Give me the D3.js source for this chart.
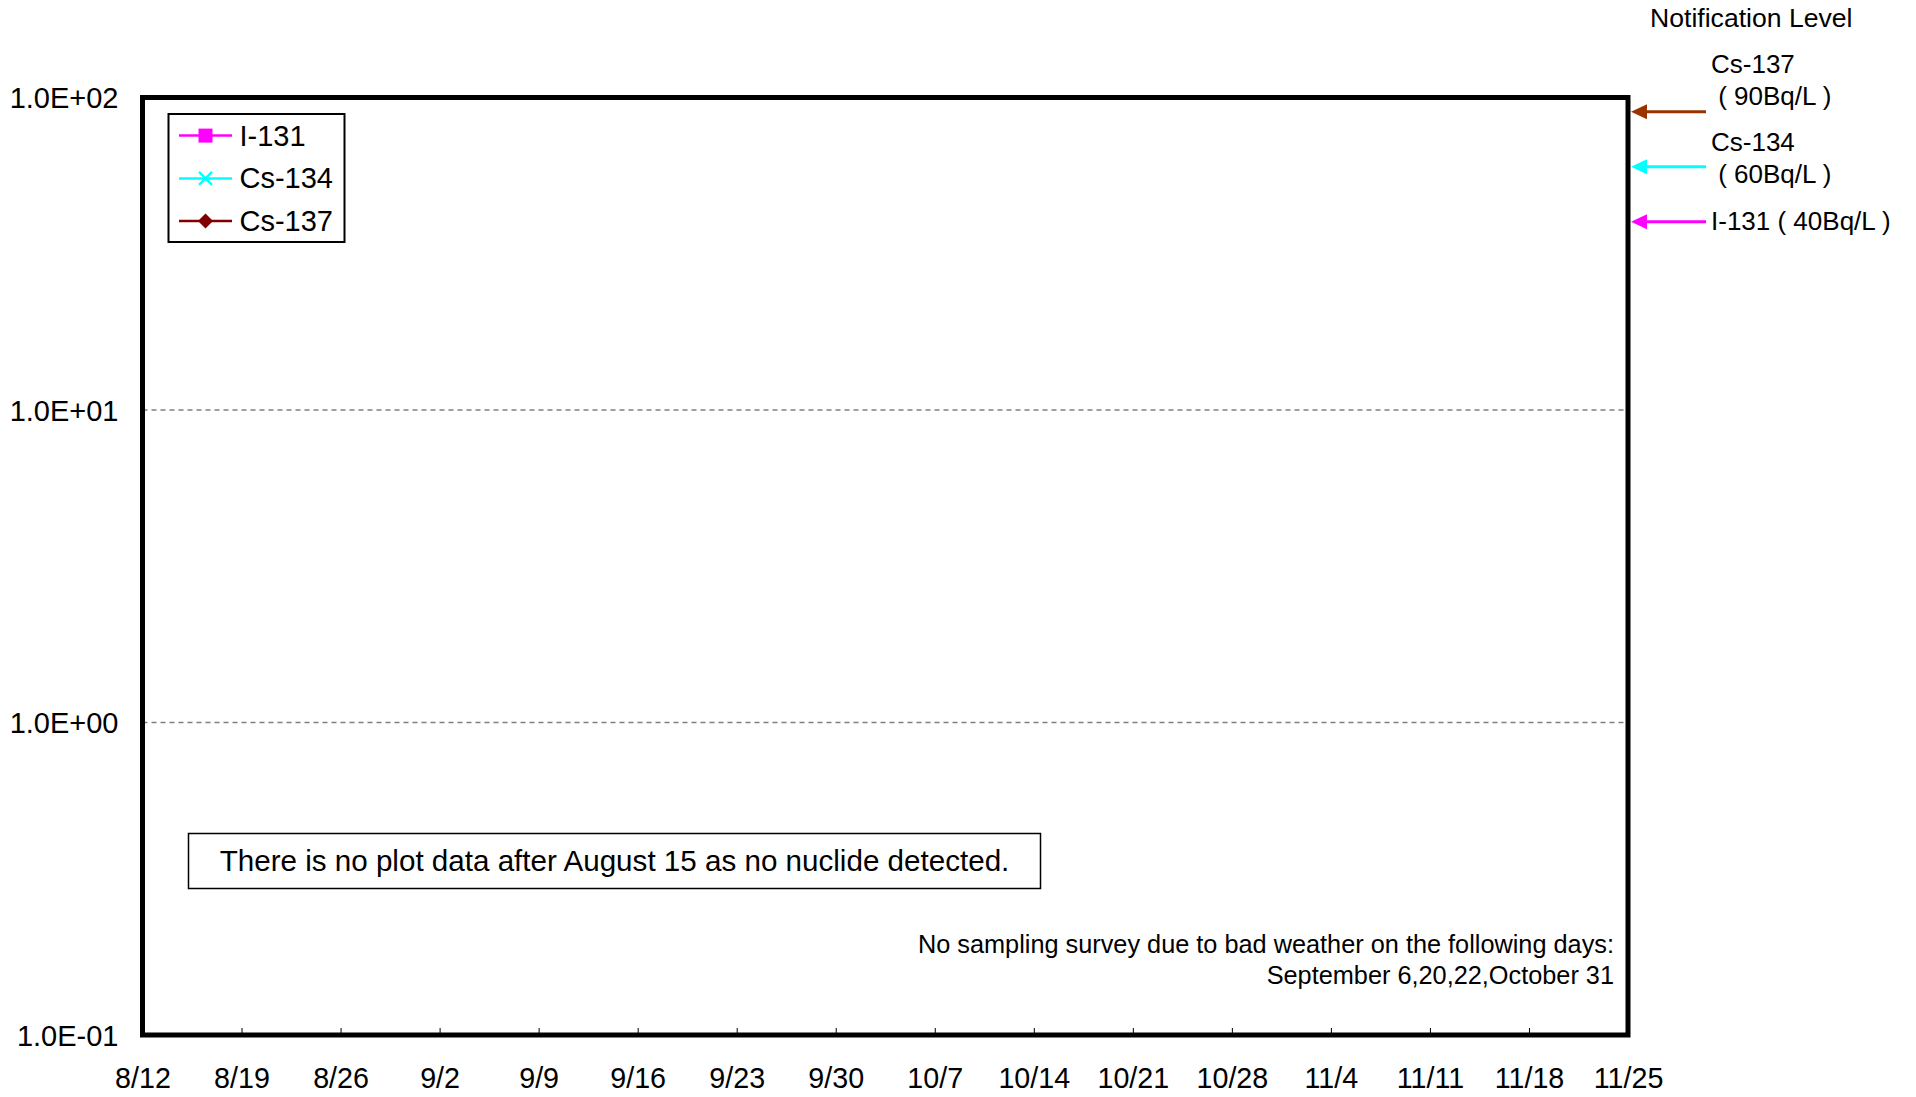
<!DOCTYPE html>
<html>
<head>
<meta charset="utf-8">
<script src="https://cdn.jsdelivr.net/npm/d3@7"></script>
<style>
  html, body { margin: 0; padding: 0; background: #fff; }
  svg { display: block; }
  text { font-family: "Liberation Sans", Arial, sans-serif; fill: #000; }
</style>
</head>
<body>
<svg id="chart" width="1916" height="1097"></svg>
<script>
// ---- data ----
const tickDates = ["2011-08-12","2011-08-19","2011-08-26","2011-09-02","2011-09-09","2011-09-16","2011-09-23","2011-09-30","2011-10-07","2011-10-14","2011-10-21","2011-10-28","2011-11-04","2011-11-11","2011-11-18","2011-11-25"];
const tickLabels = ["8/12","8/19","8/26","9/2","9/9","9/16","9/23","9/30","10/7","10/14","10/21","10/28","11/4","11/11","11/18","11/25"];
const yTickValues = [0.1, 1, 10, 100];
const yTickLabels = ["1.0E-01", "1.0E+00", "1.0E+01", "1.0E+02"];
const seriesNames = ["I-131", "Cs-134", "Cs-137"];
const seriesColors = ["#FF00FF", "#00FFFF", "#800000"];
const seriesMarkers = ["square", "cross", "diamond"];
// no nuclide detected in this period -> no plotted points
const seriesI131 = [];
const seriesCs134 = [];
const seriesCs137 = [];
const levelNames = ["Cs-137", "Cs-134", "I-131"];
const levelValues = [90, 60, 40];
const levelColors = ["#993300", "#00FFFF", "#FF00FF"];

// ---- layout ----
const svg = d3.select("#chart");
const L = 142.5, R = 1628, T = 97.5, B = 1035;
const parse = d3.timeParse("%Y-%m-%d");
const dates = tickDates.map(parse);

const x = d3.scaleTime().domain([dates[0], dates[dates.length - 1]]).range([L, R]);
const y = d3.scaleLog().domain([0.1, 100]).range([B, T]);

// grid lines
svg.append("g").selectAll("line")
  .data([1, 10]).join("line")
  .attr("x1", L).attr("x2", R)
  .attr("y1", d => y(d)).attr("y2", d => y(d))
  .attr("stroke", "#808080").attr("stroke-width", 1.3)
  .attr("stroke-dasharray", "5,4");

// x axis
const xAxis = d3.axisBottom(x)
  .tickValues(dates)
  .tickFormat((d, i) => tickLabels[i])
  .tickSize(-7)
  .tickPadding(0);
const gx = svg.append("g").attr("transform", `translate(0,${B})`).call(xAxis);
gx.select(".domain").remove();
gx.selectAll(".tick line").attr("stroke", "#000").attr("stroke-width", 1);
gx.selectAll(".tick text")
  .attr("y", 53).attr("dy", null)
  .attr("font-size", 28.7)
  .style("font-family", "'Liberation Sans', Arial, sans-serif");

// y axis
const yAxis = d3.axisLeft(y)
  .tickValues(yTickValues)
  .tickFormat((d, i) => yTickLabels[i])
  .tickSize(0)
  .tickPadding(24);
const gy = svg.append("g").attr("transform", `translate(${L},0)`).call(yAxis);
gy.select(".domain").remove();
gy.selectAll(".tick text")
  .attr("font-size", 29)
  .attr("dy", "0.36em")
  .style("font-family", "'Liberation Sans', Arial, sans-serif");

// series lines (empty)
const line = d3.line().x(d => x(parse(d[0]))).y(d => y(d[1]));
[seriesI131, seriesCs134, seriesCs137].forEach((s, i) => {
  svg.append("path").datum(s).attr("d", line).attr("fill", "none")
    .attr("stroke", seriesColors[i]).attr("stroke-width", 2.5);
});

// frame
svg.append("rect")
  .attr("x", L).attr("y", T).attr("width", R - L).attr("height", B - T)
  .attr("fill", "none").attr("stroke", "#000").attr("stroke-width", 5);

// legend
const lg = svg.append("g");
lg.append("rect").attr("x", 168.5).attr("y", 114).attr("width", 176).attr("height", 128)
  .attr("fill", "#fff").attr("stroke", "#000").attr("stroke-width", 2);
const legendY = [135.6, 178.4, 221];
seriesNames.forEach((name, i) => {
  const cy = legendY[i];
  const g = lg.append("g");
  g.append("line").attr("x1", 179).attr("x2", 232).attr("y1", cy).attr("y2", cy)
    .attr("stroke", seriesColors[i]).attr("stroke-width", 2.5);
  const cx = 205.5;
  if (seriesMarkers[i] === "square") {
    g.append("rect").attr("x", cx - 7).attr("y", cy - 7).attr("width", 14).attr("height", 14)
      .attr("fill", seriesColors[i]);
  } else if (seriesMarkers[i] === "cross") {
    g.append("path").attr("d", `M${cx-6.5},${cy-6.5}L${cx+6.5},${cy+6.5}M${cx-6.5},${cy+6.5}L${cx+6.5},${cy-6.5}`)
      .attr("stroke", seriesColors[i]).attr("stroke-width", 2.2);
  } else {
    g.append("path").attr("d", `M${cx},${cy-7.5}L${cx+7.5},${cy}L${cx},${cy+7.5}L${cx-7.5},${cy}Z`)
      .attr("fill", seriesColors[i]);
  }
  g.append("text").attr("x", 239.5).attr("y", cy + 10).attr("font-size", 29).text(name);
});

// notification level annotations
svg.append("text").attr("x", 1650).attr("y", 26.5).attr("font-size", 26.6).text("Notification Level");
const arrowTipX = 1631, arrowEndX = 1706;
levelValues.forEach((v, i) => {
  const yy = y(v);
  svg.append("line").attr("x1", arrowTipX + 12).attr("x2", arrowEndX)
    .attr("y1", yy).attr("y2", yy)
    .attr("stroke", levelColors[i]).attr("stroke-width", 3);
  svg.append("path")
    .attr("d", `M${arrowTipX},${yy}L${arrowTipX + 16},${yy - 7.5}L${arrowTipX + 16},${yy + 7.5}Z`)
    .attr("fill", levelColors[i]);
});
// labels
const lab = svg.append("g");
lab.append("text").attr("x", 1711).attr("y", 73).attr("font-size", 26).text("Cs-137");
lab.append("text").attr("x", 1711).attr("y", 104.5).attr("font-size", 26).style("white-space", "pre").text(" ( 90Bq/L )");
lab.append("text").attr("x", 1711).attr("y", 151).attr("font-size", 26).text("Cs-134");
lab.append("text").attr("x", 1711).attr("y", 183).attr("font-size", 26).style("white-space", "pre").text(" ( 60Bq/L )");
lab.append("text").attr("x", 1711).attr("y", 229.5).attr("font-size", 26).style("white-space", "pre").text("I-131 ( 40Bq/L )");

// note box
svg.append("rect").attr("x", 188.5).attr("y", 833.5).attr("width", 852).attr("height", 55)
  .attr("fill", "#fff").attr("stroke", "#000").attr("stroke-width", 1.5);
svg.append("text").attr("x", 614.5).attr("y", 870.5).attr("text-anchor", "middle").attr("font-size", 29.6)
  .text("There is no plot data after August 15 as no nuclide detected.");

// bad weather note
svg.append("text").attr("x", 1614).attr("y", 952.5).attr("text-anchor", "end").attr("font-size", 25.3)
  .text("No sampling survey due to bad weather on the following days:");
svg.append("text").attr("x", 1614).attr("y", 984).attr("text-anchor", "end").attr("font-size", 25.3)
  .text("September 6,20,22,October 31");
</script>
</body>
</html>
